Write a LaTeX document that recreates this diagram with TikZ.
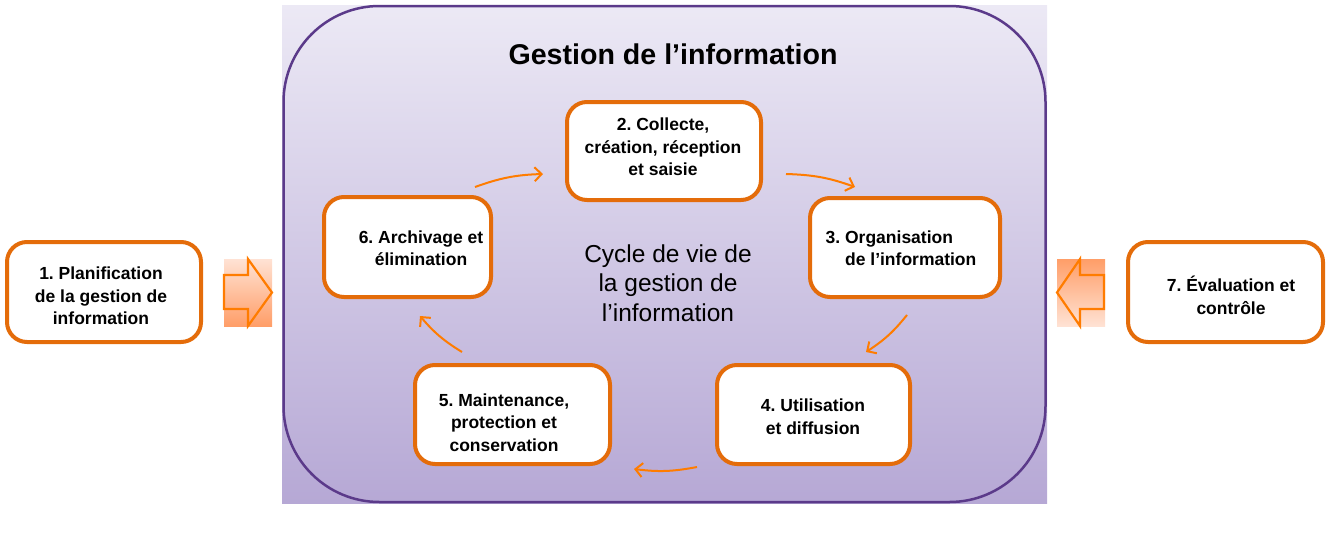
\documentclass[tikz,border=0pt]{standalone}
\usepackage{fontspec}
\setmainfont{Liberation Sans}
\usetikzlibrary{arrows.meta}
\frenchspacing
\definecolor{boxorange}{HTML}{E46C0A}
\definecolor{arrorange}{HTML}{FF7C00}
\definecolor{framepurple}{HTML}{5B3A8A}
\definecolor{bgtop}{HTML}{ECE9F5}
\definecolor{bgbottom}{HTML}{B6A8D5}
\definecolor{peachlight}{HTML}{FFE2D4}
\definecolor{peachdark}{HTML}{FF9E68}
\tikzset{
  x=1pt,y=1pt,
  obox/.style={draw=boxorange, line width=4pt, rounded corners=20pt, fill=white, inner sep=0pt},
  btext/.style={font=\bfseries\fontsize{17.5}{22.5}\selectfont, align=center, inner sep=0pt},
  cyclearrow/.style={draw=arrorange, line width=2pt, -{Straight Barb[length=7pt,width=14pt,line width=2pt]}, bend left=9},
  blockarrow/.style={draw=arrorange, line width=2.2pt, line join=miter},
}
\begin{document}
\frenchspacing
\begin{tikzpicture}
\useasboundingbox (0,-538) rectangle (1327,0);
% background of the management area
\shade[top color=bgtop, bottom color=bgbottom] (282,-5) rectangle (1047,-503);
\draw[framepurple, line width=2.5pt, rounded corners=96pt] (283.5,-6) rectangle (1045.5,-502);

\node[font=\bfseries\fontsize{28.6}{30}\selectfont] (title) at (673,-54) {Gestion de l’information};
\node[font=\fontsize{24.5}{29.5}\selectfont, align=center] (center) at (668,-283) {Cycle de vie de\\la gestion de\\l’information};

% boxes
\node[obox, minimum width=194pt, minimum height=100pt] (b1) at (104,-292) {};
\node[obox, minimum width=194pt, minimum height=98pt] (b2) at (664,-151) {};
\node[obox, minimum width=190pt, minimum height=99pt] (b3) at (905,-247.5) {};
\node[obox, minimum width=193pt, minimum height=99pt] (b4) at (813.5,-414.5) {};
\node[obox, minimum width=195pt, minimum height=99pt] (b5) at (512.5,-414.5) {};
\node[obox, minimum width=167pt, minimum height=100pt] (b6) at (407.5,-247) {};
\node[obox, minimum width=195pt, minimum height=100pt] (b7) at (1225.5,-292) {};

% texts
\node[btext] (t1) at (101,-296) {1. Planification\\de la gestion de\\information};
\node[btext] (t2) at (663,-147) {2. Collecte,\\création, réception\\et saisie};
\node[btext, align=left] (t3) at (901,-248.5) {3.~Organisation\\\phantom{3.~}de l’information};
\node[btext] (t4) at (813,-416.5) {4. Utilisation\\et diffusion};
\node[btext] (t5) at (504,-422.5) {5. Maintenance,\\protection et\\conservation};
\node[btext] (t6) at (421,-248) {6. Archivage et\\élimination};
\node[btext] (t7) at (1231,-295.5) {7. Évaluation et\\contrôle};

% cycle arrows
\coordinate (a62s) at (475,-187); \coordinate (a62e) at (543,-174);
\coordinate (a23s) at (786,-174); \coordinate (a23e) at (855,-187);
\coordinate (a34s) at (907,-315); \coordinate (a34e) at (866,-352);
\coordinate (a45s) at (697,-467); \coordinate (a45e) at (634,-469);
\coordinate (a56s) at (462,-352); \coordinate (a56e) at (420,-316);
\draw[cyclearrow] (a62s) to (a62e);
\draw[cyclearrow] (a23s) to (a23e);
\draw[cyclearrow] (a34s) to (a34e);
\draw[cyclearrow] (a45s) to (a45e);
\draw[cyclearrow] (a56s) to (a56e);

% block arrows
\shade[top color=peachlight, bottom color=peachdark] (224,-259) rectangle (272,-326);
\draw[blockarrow] (224,-275) -- (248,-275) -- (248,-259) -- (272,-292.5) -- (248,-326) -- (248,-309) -- (224,-309) -- cycle;
\shade[top color=peachdark, bottom color=peachlight] (1057,-259) rectangle (1105,-326);
\draw[blockarrow] (1104,-275) -- (1080,-275) -- (1080,-259) -- (1057,-292.5) -- (1080,-326) -- (1080,-309) -- (1104,-309) -- cycle;
\end{tikzpicture}
\end{document}
